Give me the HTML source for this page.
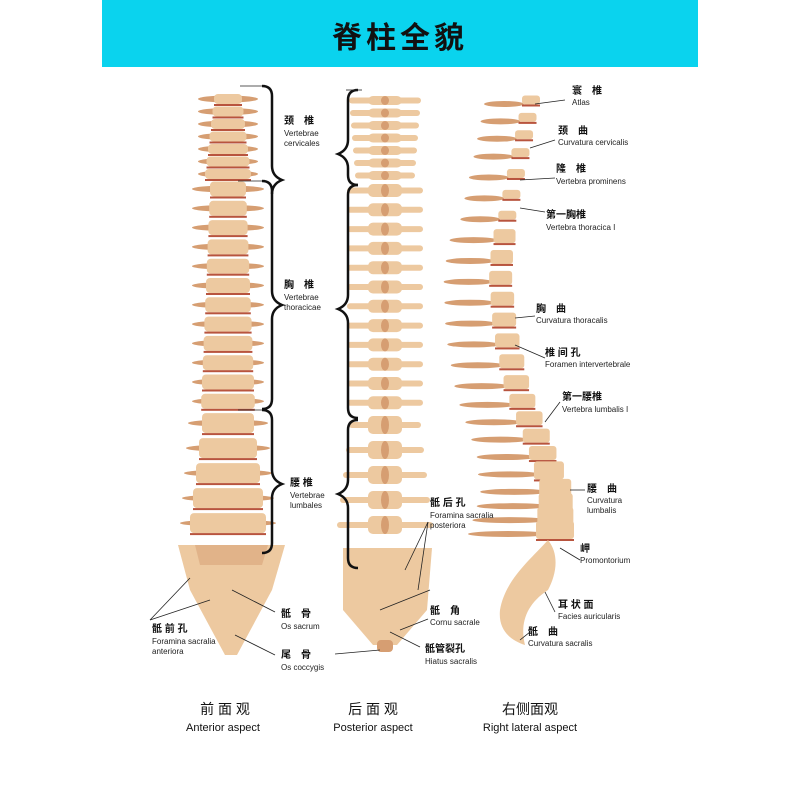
<!DOCTYPE html>
<html><head><meta charset="utf-8"><style>
body{margin:0;width:800px;height:800px;background:#fff;overflow:hidden;font-family:"Liberation Sans","Noto Sans CJK SC",sans-serif;}
svg{position:absolute;left:0;top:0}
.cn{font-family:"Liberation Sans","Noto Sans CJK SC",sans-serif;font-size:10px;fill:#111;font-weight:bold}
.en{font-family:"Liberation Sans",sans-serif;font-size:8px;fill:#222}
.big{font-family:"Liberation Sans","Noto Sans CJK SC",sans-serif;font-size:14px;fill:#111}
.bigen{font-family:"Liberation Sans",sans-serif;font-size:11px;fill:#111}
</style></head><body>
<svg id="s" width="800" height="800" viewBox="0 0 800 800">
<rect x="102" y="0" width="596" height="67" fill="#0ad3ee"/>
<text x="400" y="48" text-anchor="middle" font-size="30" font-weight="bold" font-family="Liberation Sans,Noto Sans CJK SC,sans-serif" fill="#111" letter-spacing="4">脊柱全貌</text>
<g id="bones"></g>
<g fill="none" stroke="#111" stroke-width="2.5">
<path d="M262 86 q10 0 10 10 v70 q0 10 10 14 q-10 4 -10 14 v0"/>
<path d="M262 181 q10 0 10 10 v100 q0 10 10 14 q-10 4 -10 14 v80 q0 10 -10 10"/>
<path d="M262 410 q10 0 10 10 v50 q0 10 10 14 q-10 4 -10 14 v45 q0 10 -10 10"/>
<path d="M358 90 q-10 0 -10 10 v40 q0 10 -10 14 q10 4 10 14 v7 q0 10 10 10"/>
<path d="M358 185 q-10 0 -10 10 v100 q0 10 -10 14 q10 4 10 14 v85 q0 10 10 10"/>
<path d="M358 420 q-10 0 -10 10 v50 q0 10 -10 14 q10 4 10 14 v50 q0 10 10 10"/>
</g>
<g stroke="#222" stroke-width="0.8" fill="none">
<line x1="240" y1="86" x2="262" y2="86"/><line x1="346" y1="90" x2="362" y2="90"/>
<line x1="238" y1="181" x2="262" y2="181"/><line x1="238" y1="410" x2="262" y2="410"/>
<line x1="150" y1="620" x2="190" y2="578"/><line x1="150" y1="620" x2="210" y2="600"/>
<line x1="275" y1="612" x2="232" y2="590"/><line x1="275" y1="655" x2="235" y2="635"/>
<line x1="380" y1="610" x2="430" y2="590"/><line x1="428" y1="522" x2="405" y2="570"/><line x1="428" y1="522" x2="418" y2="590"/>
<line x1="428" y1="619" x2="400" y2="630"/><line x1="420" y1="647" x2="390" y2="632"/><line x1="335" y1="654" x2="380" y2="650"/>
<line x1="565" y1="100" x2="535" y2="104"/><line x1="555" y1="140" x2="530" y2="148"/><line x1="555" y1="178" x2="520" y2="180"/>
<line x1="545" y1="212" x2="520" y2="208"/><line x1="535" y1="316" x2="515" y2="318"/><line x1="545" y1="358" x2="515" y2="345"/>
<line x1="560" y1="402" x2="545" y2="422"/><line x1="585" y1="490" x2="570" y2="490"/><line x1="580" y1="560" x2="560" y2="548"/>
<line x1="555" y1="612" x2="545" y2="592"/><line x1="530" y1="632" x2="520" y2="640"/>
</g>
<g>
<text class="cn" x="284" y="124">颈　椎</text><text class="en" x="284" y="136">Vertebrae</text><text class="en" x="284" y="146">cervicales</text>
<text class="cn" x="284" y="288">胸　椎</text><text class="en" x="284" y="300">Vertebrae</text><text class="en" x="284" y="310">thoracicae</text>
<text class="cn" x="290" y="486">腰 椎</text><text class="en" x="290" y="498">Vertebrae</text><text class="en" x="290" y="508">lumbales</text>
<text class="cn" x="152" y="632">骶 前 孔</text><text class="en" x="152" y="644">Foramina sacralia</text><text class="en" x="152" y="654">anteriora</text>
<text class="cn" x="281" y="617">骶　骨</text><text class="en" x="281" y="629">Os sacrum</text>
<text class="cn" x="281" y="658">尾　骨</text><text class="en" x="281" y="670">Os coccygis</text>
<text class="cn" x="430" y="506">骶 后 孔</text><text class="en" x="430" y="518">Foramina sacralia</text><text class="en" x="430" y="528">posteriora</text>
<text class="cn" x="430" y="614">骶　角</text><text class="en" x="430" y="625">Cornu sacrale</text>
<text class="cn" x="425" y="652">骶管裂孔</text><text class="en" x="425" y="664">Hiatus sacralis</text>
<text class="cn" x="572" y="94">寰　椎</text><text class="en" x="572" y="105">Atlas</text>
<text class="cn" x="558" y="134">颈　曲</text><text class="en" x="558" y="145">Curvatura cervicalis</text>
<text class="cn" x="556" y="172">隆　椎</text><text class="en" x="556" y="184">Vertebra prominens</text>
<text class="cn" x="546" y="218">第一胸椎</text><text class="en" x="546" y="230">Vertebra thoracica I</text>
<text class="cn" x="536" y="312">胸　曲</text><text class="en" x="536" y="323">Curvatura thoracalis</text>
<text class="cn" x="545" y="356">椎 间 孔</text><text class="en" x="545" y="367">Foramen intervertebrale</text>
<text class="cn" x="562" y="400">第一腰椎</text><text class="en" x="562" y="412">Vertebra lumbalis I</text>
<text class="cn" x="587" y="492">腰　曲</text><text class="en" x="587" y="503">Curvatura</text><text class="en" x="587" y="513">lumbalis</text>
<text class="cn" x="580" y="552">岬</text><text class="en" x="580" y="563">Promontorium</text>
<text class="cn" x="558" y="608">耳 状 面</text><text class="en" x="558" y="619">Facies auricularis</text>
<text class="cn" x="528" y="635">骶　曲</text><text class="en" x="528" y="646">Curvatura sacralis</text>
<text class="big" x="225" y="714" text-anchor="middle">前 面 观</text><text class="bigen" x="223" y="731" text-anchor="middle">Anterior aspect</text>
<text class="big" x="373" y="714" text-anchor="middle">后 面 观</text><text class="bigen" x="373" y="731" text-anchor="middle">Posterior aspect</text>
<text class="big" x="530" y="714" text-anchor="middle">右侧面观</text><text class="bigen" x="530" y="731" text-anchor="middle">Right lateral aspect</text>
</g>
</svg>
<script>
var g=document.getElementById('bones'),ns='http://www.w3.org/2000/svg';
function el(t,a){var e=document.createElementNS(ns,t);for(var k in a)e.setAttribute(k,a[k]);g.appendChild(e);return e;}
var bone='#edc9a0',dark='#d69e72',disc='#b8543e';
for(var i=0;i<24;i++){
 var y=i<7?94+i*12.5:(i<19?94+7*12.5+(i-7)*19.3:94+7*12.5+12*19.3+(i-19)*25);
 var w=i<7?14+i*1.5:(i<19?18+(i-7)*0.8:26+(i-19)*3);
 var h=i<7?10:(i<19?15:20);
 var tw=i<7?30:(i<19?36:40+(i-19)*2);
 el('ellipse',{cx:228,cy:y+h/2,rx:tw,ry:3.5,fill:dark});
 el('rect',{x:228-w,y:y,width:2*w,height:h,rx:4,fill:bone});
 el('rect',{x:228-w,y:y+h,width:2*w,height:2,fill:disc});
}
el('path',{d:'M178 545 L285 545 L272 590 L237 655 L225 655 L190 590 Z',fill:bone});
el('path',{d:'M195 545 L268 545 L262 565 L200 565Z',fill:dark,opacity:.5});
for(var i=0;i<24;i++){
 var y=i<7?96+i*12.5:(i<19?184+(i-7)*19.3:416+(i-19)*25);
 var tw=i<7?36-i:(i<19?38:36+(i-19)*3);
 var h=i<7?9:(i<19?13:18);
 el('rect',{x:385-tw,y:y+h/2-3,width:2*tw,height:6,rx:3,fill:bone});
 el('rect',{x:368,y:y,width:34,height:h,rx:5,fill:bone});
 el('ellipse',{cx:385,cy:y+h/2,rx:4,ry:h/2,fill:dark});
}
el('path',{d:'M343 548 L432 548 L427 610 L397 645 L373 645 L343 610 Z',fill:bone});
el('rect',{x:377,y:640,width:16,height:12,rx:4,fill:dark});
var pts=[[528,100],[518,150],[505,210],[497,270],[502,330],[515,390],[535,440],[553,490],[552,530]];
function P(t){var n=pts.length-1,f=t*n,i=Math.min(Math.floor(f),n-1),u=f-i;return[pts[i][0]+(pts[i+1][0]-pts[i][0])*u,pts[i][1]+(pts[i+1][1]-pts[i][1])*u];}
for(var i=0;i<24;i++){
 var t=i/23,p=P(t);
 var w=i<7?12:(i<19?16+(i-7)*0.5:24+(i-19)*2),h=i<7?9:(i<19?14:18);
 el('ellipse',{cx:p[0]-w-12,cy:p[1]+4,rx:w+8,ry:3,fill:dark});
 el('rect',{x:p[0]-w/2,y:p[1]-h/2,width:w+6,height:h,rx:3,fill:bone});
 el('rect',{x:p[0]-w/2,y:p[1]+h/2,width:w+6,height:2,fill:disc});
}
el('path',{d:'M548 540 C530 560 505 580 500 610 C498 630 510 640 525 645 C520 625 525 605 548 590 C556 575 560 555 548 540Z',fill:bone});
</script>
</body></html>
